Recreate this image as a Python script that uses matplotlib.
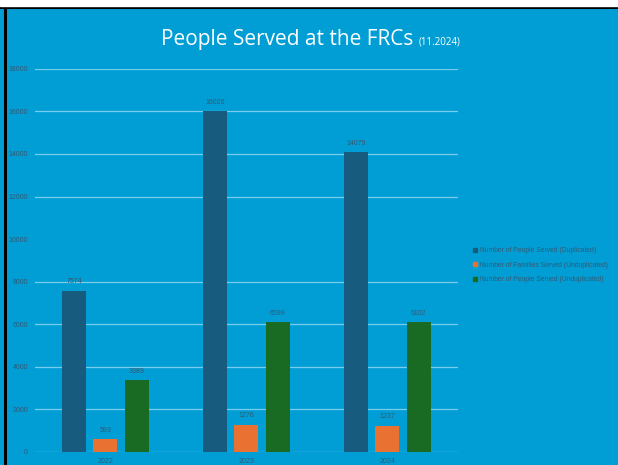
import matplotlib
matplotlib.use('Agg')
import matplotlib.pyplot as plt
import numpy as np
from matplotlib.lines import Line2D

plt.rcParams['font.family'] = ['Liberation Sans', 'DejaVu Sans']

years = ['2022', '2023', '2024']
people_dup = [7574, 16026, 14079]
families_undup = [593, 1276, 1237]
people_undup = [3389, 6099, 6102]
series_names = ['Number of People Served (Duplicated)',
                'Number of Families Served (Unduplicated)',
                'Number of People Served (Unduplicated)']
colors = ['#175C7E', '#E97132', '#196B24']

bg = '#009ED5'
txt = '#355A74'

fig = plt.figure(figsize=(6.18, 4.65), dpi=100, facecolor=bg)
ax = fig.add_axes([0.0566, 0.028, 0.6844, 0.824])
ax.set_facecolor(bg)

x = np.arange(len(years))
w = 0.17
step = 0.222
for i, (vals, c) in enumerate(zip([people_dup, families_undup, people_undup], colors)):
    bars = ax.bar(x + (i - 1) * step, vals, width=w, color=c, zorder=3, label=series_names[i])
    for b, v in zip(bars, vals):
        ax.text(b.get_x() + b.get_width() / 2, v + 250, str(v), ha='center', va='bottom',
                fontsize=5, color=txt)

ax.set_xlim(-0.5, 2.5)
ax.set_ylim(0, 18000)
ticks = list(range(0, 18001, 2000))
ax.set_yticks(ticks)
ax.set_xticks(x)
ax.set_xticklabels(years)
ax.tick_params(axis='both', length=0, labelsize=5, labelcolor=txt)
ax.tick_params(axis='y', pad=5)
ax.tick_params(axis='x', pad=4.5)
for t in ticks:
    if t == 10000:
        continue
    ax.axhline(t, color='#78CCEC', lw=0.9, zorder=1)
for s in ax.spines.values():
    s.set_visible(False)

handles = [Line2D([], [], marker='s', ls='', color=c, markersize=3.3) for c in colors]
fig.legend(handles, series_names, loc='center left', bbox_to_anchor=(0.755, 0.430),
           frameon=False, fontsize=4.9, labelcolor=txt, handletextpad=0.2,
           labelspacing=1.1, handlelength=0.8)

# title
t1 = fig.text(161 / 618, 1 - 45 / 465, 'People Served at the FRCs', ha='left', va='baseline',
              fontsize=15, color='white', family='Open Sans')
fig.canvas.draw()
bb = t1.get_window_extent()
fig.text((bb.x1 + 5) / 618, 1 - 45 / 465, '(11.2024)', ha='left', va='baseline',
         fontsize=7, color='white', family='Open Sans')

# white strip and black frame at top and left
fig.patches.append(plt.Rectangle((0, 1 - 6 / 465), 1, 6 / 465, transform=fig.transFigure,
                                 color='white', zorder=10))
fig.add_artist(Line2D([0, 1], [1 - 7.5 / 465] * 2, transform=fig.transFigure, color='black', lw=2.2))
fig.add_artist(Line2D([4.5 / 618] * 2, [0, 1 - 6 / 465], transform=fig.transFigure, color='black', lw=2.2))

fig.savefig('out.png', dpi=100, facecolor=bg)
